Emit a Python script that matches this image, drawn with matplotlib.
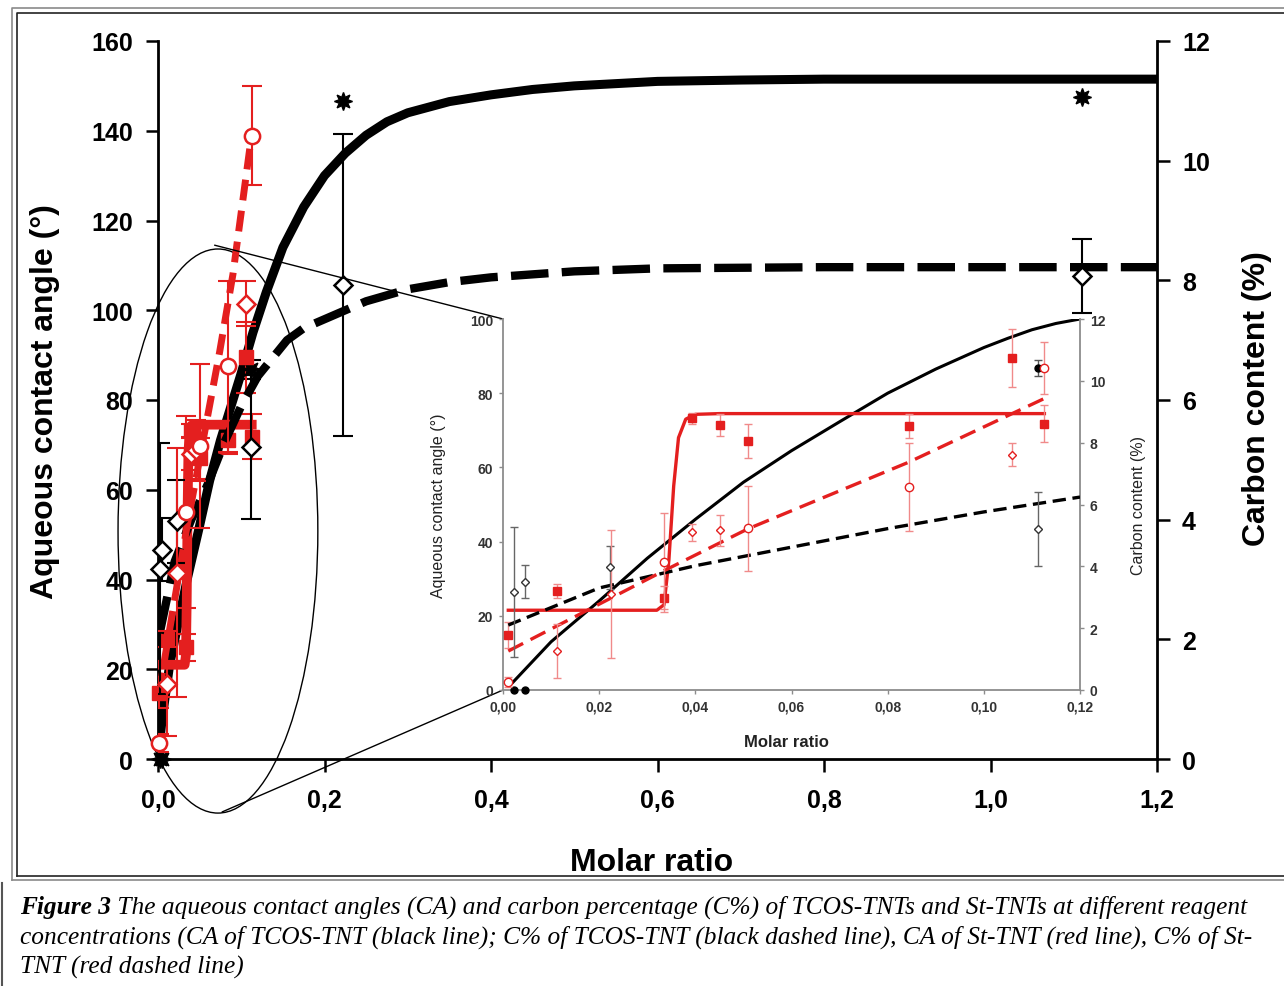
import numpy as np
import matplotlib
matplotlib.use('Agg')
import matplotlib.pyplot as plt
from matplotlib.patches import Ellipse, ConnectionPatch
from matplotlib.lines import Line2D

plt.rcParams['font.family'] = ['Liberation Sans', 'DejaVu Sans']

# ---- data ----
# CA of TCOS-TNT (black filled), left axis
tcos_ca_x = np.array([0.0022, 0.0046, 0.1113, 0.222, 1.110])
tcos_ca_y = np.array([0.0, 0.0, 86.8, 146.6, 147.5])
tcos_ca_err = np.array([0.0, 0.0, 2.1, 0.0, 0.0])

# C% of TCOS-TNT (black open diamonds), right axis
tcos_c_x = np.array([0.0022, 0.0046, 0.0223, 0.1113, 0.222, 1.110])
tcos_c_y = np.array([3.18, 3.50, 3.97, 5.21, 7.92, 8.07])
tcos_c_err = np.array([2.10, 0.53, 0.70, 1.20, 2.53, 0.62])

# CA of St-TNT (red filled squares), left axis
st_ca_x = np.array([0.0011, 0.0113, 0.0335, 0.0394, 0.0451, 0.0509, 0.0844, 0.1058, 0.1126])
st_ca_y = np.array([14.8, 26.7, 24.9, 73.2, 71.4, 67.0, 71.1, 89.5, 71.8])
st_ca_err = np.array([3.4, 1.8, 3.0, 1.5, 3.0, 4.6, 3.2, 7.9, 5.0])

# C% of St-TNT (red open symbols), right axis
st_c_x = np.array([0.0011, 0.0113, 0.0225, 0.0335, 0.0394, 0.0451, 0.0509, 0.0844, 0.1058, 0.1126])
st_c_y = np.array([0.26, 1.26, 3.11, 4.13, 5.10, 5.16, 5.23, 6.56, 7.61, 10.42])
st_c_err = np.array([0.15, 0.88, 2.08, 1.60, 0.27, 0.51, 1.37, 1.43, 0.38, 0.83])
st_c_mk = ['o', 'D', 'D', 'o', 'D', 'D', 'o', 'o', 'D', 'o']

# fitted curves, main panel
fit_tcos_ca_x = [0, 0.005, 0.014, 0.025, 0.035, 0.05, 0.062, 0.075, 0.09, 0.1, 0.114, 0.13, 0.15,
                 0.175, 0.2, 0.225, 0.25, 0.275, 0.3, 0.35, 0.4, 0.45, 0.5, 0.6, 0.7, 0.8, 1.0, 1.2]
fit_tcos_ca_y = [0, 9, 21, 31, 40, 52, 62, 71, 80, 86, 95, 104, 114,
                 123, 130, 135, 139, 142, 144, 146.5, 148, 149.2, 150, 151, 151.3, 151.5, 151.5, 151.5]
fit_tcos_c_x = [0.002, 0.02, 0.04, 0.06, 0.08, 0.1, 0.12, 0.155, 0.175, 0.2, 0.25, 0.3, 0.35, 0.4,
                0.5, 0.6, 0.8, 1.0, 1.2]
fit_tcos_c_y = [2.1, 3.3, 4.0, 4.6, 5.3, 5.9, 6.4, 7.0, 7.2, 7.35, 7.65, 7.85, 7.97, 8.05,
                8.15, 8.2, 8.22, 8.22, 8.22]
fit_st_ca_x = [0.0011, 0.032, 0.0335, 0.0345, 0.0355, 0.0365, 0.038, 0.040, 0.045, 0.1126]
fit_st_ca_y = [21, 21, 23, 35, 55, 68, 73, 74.3, 74.5, 74.5]
fit_st_c_x = [0.0011, 0.035, 0.074, 0.09, 0.1126]
fit_st_c_y = [1.1, 3.9, 6.8, 8.1, 10.45]

# fitted curves, inset
in_tcos_ca_x = [0.002, 0.01, 0.02, 0.03, 0.04, 0.05, 0.06, 0.07, 0.08, 0.09, 0.10, 0.105, 0.11, 0.115, 0.12]
in_tcos_ca_y = [2, 13, 24, 35.5, 46, 56, 64.5, 72.3, 80, 86.5, 92.3, 94.8, 97.1, 98.8, 100]
in_tcos_c_x = [0.0011, 0.02, 0.04, 0.06, 0.08, 0.10, 0.12]
in_tcos_c_y = [2.1, 3.3, 4.02, 4.62, 5.22, 5.76, 6.24]
in_st_ca_x = [0.0011, 0.032, 0.0335, 0.0345, 0.0355, 0.0365, 0.038, 0.040, 0.045, 0.1126]
in_st_ca_y = [21.5, 21.5, 23, 35, 55, 68, 73, 74.3, 74.5, 74.5]
in_st_c_x = [0.0011, 0.0335, 0.0509, 0.0844, 0.1126]
in_st_c_y = [1.26, 3.86, 5.21, 7.37, 9.43]

main_xticks = [0, 0.2, 0.4, 0.6, 0.8, 1.0, 1.2]
main_xlabels = ['0,0', '0,2', '0,4', '0,6', '0,8', '1,0', '1,2']
inset_xticks = [0, 0.02, 0.04, 0.06, 0.08, 0.10, 0.12]
inset_xlabels = ['0,00', '0,02', '0,04', '0,06', '0,08', '0,10', '0,12']

caption_bold = 'Figure 3'
caption_lines = [
    ' The aqueous contact angles (CA) and carbon percentage (C%) of TCOS-TNTs and St-TNTs at different reagent',
    'concentrations (CA of TCOS-TNT (black line); C% of TCOS-TNT (black dashed line), CA of St-TNT (red line), C% of St-',
    'TNT (red dashed line)',
]

RED = '#e41f1f'
W, H = 1284, 987
fig = plt.figure(figsize=(W / 100, H / 100), dpi=100)


def fx(px):
    return px / W


def fy(py):
    return 1 - py / H


# ---- main axes ----
ax = fig.add_axes([fx(158), fy(760), fx(1157) - fx(158), fy(42) - fy(760)])
ax2 = ax.twinx()
ax.set_xlim(0, 1.2)
ax.set_ylim(0, 160)
ax2.set_ylim(0, 12)

for a in (ax, ax2):
    a.spines['top'].set_visible(False)
    for s in a.spines.values():
        s.set_linewidth(2)
ax.spines['right'].set_visible(False)
ax2.spines['left'].set_visible(False)
ax2.spines['bottom'].set_visible(False)

ax.set_xticks(main_xticks)
ax.set_xticklabels(main_xlabels)
ax.set_yticks(np.arange(0, 161, 20))
ax2.set_yticks(np.arange(0, 13, 2))
ax.tick_params(axis='y', direction='out', length=9, width=1.8, pad=9, labelsize=18)
ax.tick_params(axis='x', direction='out', length=9, width=1.8, pad=12, labelsize=18)
ax2.tick_params(axis='y', direction='out', length=9, width=1.8, pad=9, labelsize=18)
for lab in ax.get_xticklabels() + ax.get_yticklabels() + ax2.get_yticklabels():
    lab.set_fontweight('bold')

ax.set_xlabel('Molar ratio', fontsize=23, fontweight='bold')
ax.xaxis.set_label_coords(0.4945, -0.1226)
ax.set_ylabel('Aqueous contact angle (°)', fontsize=23, fontweight='bold')
ax.yaxis.set_label_coords(-0.098, 0.499)
ax2.set_ylabel('Carbon content (%)', fontsize=23, fontweight='bold')
ax2.yaxis.set_label_coords(1.085, 0.504)

# curves
ax.plot(fit_tcos_ca_x, fit_tcos_ca_y, color='black', lw=6.5, solid_capstyle='butt',
        solid_joinstyle='round', zorder=3)
ax.plot(fit_st_ca_x, fit_st_ca_y, color=RED, lw=7, zorder=3)
ax2.plot(fit_tcos_c_x, fit_tcos_c_y, color='black', lw=6, dashes=(4.5, 1.6), zorder=3)
ax2.plot(fit_st_c_x, fit_st_c_y, color=RED, lw=5, dashes=(3, 1.5), zorder=3)

# markers / error bars main
m = tcos_ca_err > 0
ax.errorbar(tcos_ca_x[m], tcos_ca_y[m], yerr=tcos_ca_err[m], fmt='none', ecolor='black',
            elinewidth=1.5, capsize=7, capthick=1.5, zorder=4)
ax.plot(tcos_ca_x, tcos_ca_y, ls='none', marker=(8, 1, 0), ms=13, color='black', zorder=5, clip_on=False)
ax.errorbar(st_ca_x, st_ca_y, yerr=st_ca_err, fmt='none', ecolor=RED,
            elinewidth=1.5, capsize=7, capthick=1.5, zorder=4)
ax.plot(st_ca_x, st_ca_y, ls='none', marker='s', ms=10, color=RED, zorder=5, clip_on=False)

ax2.errorbar(tcos_c_x, tcos_c_y, yerr=tcos_c_err, fmt='none', ecolor='black',
             elinewidth=1.5, capsize=7, capthick=1.5, zorder=4)
ax2.plot(tcos_c_x, tcos_c_y, ls='none', marker='D', ms=9, mfc='white', mec='black', mew=1.8,
         zorder=5, clip_on=False)
ax2.errorbar(st_c_x, st_c_y, yerr=st_c_err, fmt='none', ecolor=RED,
             elinewidth=1.5, capsize=7, capthick=1.5, zorder=4)
for x, y, mk in zip(st_c_x, st_c_y, st_c_mk):
    ax2.plot(x, y, ls='none', marker=mk, ms=11 if mk == 'o' else 9, mfc='white', mec=RED,
             mew=1.8, zorder=5, clip_on=False)

# zoom ellipse
ell = Ellipse((0.072, 50.8), 0.24, 125.7, fill=False, lw=1.0, ec='black', clip_on=False, zorder=6)
ax.add_patch(ell)

# ---- inset ----
axin = fig.add_axes([fx(503), fy(691), fx(1080) - fx(503), fy(320) - fy(691)])
axin2 = axin.twinx()
axin.set_zorder(10)
axin2.set_zorder(11)
axin.patch.set_facecolor('white')
axin.set_xlim(0, 0.12)
axin.set_ylim(0, 100)
axin2.set_ylim(0, 12)
GR = '#8c8c8c'
for a in (axin, axin2):
    a.spines['top'].set_visible(False)
    for s in a.spines.values():
        s.set_color(GR)
        s.set_linewidth(1.3)
axin.spines['right'].set_visible(False)
axin2.spines['left'].set_visible(False)
axin2.spines['bottom'].set_visible(False)
axin.set_xticks(inset_xticks)
axin.set_xticklabels(inset_xlabels)
axin.set_yticks(np.arange(0, 101, 20))
axin2.set_yticks(np.arange(0, 13, 2))
for a in (axin, axin2):
    a.tick_params(direction='out', length=3, width=1, color=GR, labelsize=10, labelcolor='#333333', pad=4)
for lab in axin.get_xticklabels() + axin.get_yticklabels() + axin2.get_yticklabels():
    lab.set_fontweight('bold')
axin.set_xlabel('Molar ratio', fontsize=12, fontweight='bold', color='#222222')
axin.xaxis.set_label_coords(0.492, -0.118)
axin.set_ylabel('Aqueous contact angle (°)', fontsize=11.5, color='#222222')
axin.yaxis.set_label_coords(-0.099, 0.499)
axin2.set_ylabel('Carbon content (%)', fontsize=11.5, color='#222222')
axin2.yaxis.set_label_coords(1.088, 0.501)

axin.plot(in_tcos_ca_x, in_tcos_ca_y, color='black', lw=2.2, zorder=3)
axin.plot(in_st_ca_x, in_st_ca_y, color=RED, lw=2.4, zorder=3)
axin2.plot(in_tcos_c_x, in_tcos_c_y, color='black', lw=2.4, dashes=(4, 2), zorder=3)
axin2.plot(in_st_c_x, in_st_c_y, color=RED, lw=2.4, dashes=(5, 2.5), zorder=3)

LR = '#f08a8a'
mi = (tcos_ca_x <= 0.12)
me = mi & (tcos_ca_err > 0)
axin.errorbar(tcos_ca_x[me], tcos_ca_y[me], yerr=tcos_ca_err[me], fmt='none', ecolor='#555555',
              elinewidth=1, capsize=3, zorder=4)
axin.plot(tcos_ca_x[mi], tcos_ca_y[mi], ls='none', marker='o', ms=5, color='black', zorder=5, clip_on=False)
axin.errorbar(st_ca_x, st_ca_y, yerr=st_ca_err, fmt='none', ecolor=LR, elinewidth=1, capsize=3, zorder=4)
axin.plot(st_ca_x, st_ca_y, ls='none', marker='s', ms=5.5, color=RED, zorder=5, clip_on=False)
mi = tcos_c_x <= 0.12
axin2.errorbar(tcos_c_x[mi], tcos_c_y[mi], yerr=tcos_c_err[mi], fmt='none', ecolor='#666666',
               elinewidth=1, capsize=3, zorder=4)
axin2.plot(tcos_c_x[mi], tcos_c_y[mi], ls='none', marker='D', ms=4.5, mfc='white', mec='#333333',
           mew=1, zorder=5)
axin2.errorbar(st_c_x, st_c_y, yerr=st_c_err, fmt='none', ecolor=LR, elinewidth=1, capsize=3, zorder=4)
for x, y, mk in zip(st_c_x, st_c_y, st_c_mk):
    axin2.plot(x, y, ls='none', marker=mk, ms=6 if mk == 'o' else 4.5, mfc='white', mec=RED,
               mew=1, zorder=5, clip_on=False)

# connector lines from ellipse to inset
for xyA, xyB in [((0.068, 114.5), (0, 1)), ((0.077, -11.8), (0, 0))]:
    con = ConnectionPatch(xyA=xyA, coordsA=ax.transData, xyB=xyB, coordsB=axin.transAxes,
                          color='black', lw=1.0)
    fig.add_artist(con)

# ---- frame and caption ----
fig.add_artist(Line2D([fx(12), fx(12), fx(1290)], [fy(881), fy(9), fy(9)], color='#8a8a8a', lw=1.2))
fig.add_artist(Line2D([fx(12), fx(1290)], [fy(881), fy(881)], color='#8a8a8a', lw=1.2))
fig.add_artist(Line2D([fx(17), fx(17), fx(1290)], [fy(877), fy(14), fy(14)], color='#222222', lw=1.2))
fig.add_artist(Line2D([fx(17), fx(1290)], [fy(877), fy(877)], color='#222222', lw=1.2))
fig.add_artist(Line2D([fx(2), fx(2)], [fy(884), fy(987)], color='#555555', lw=1.5))

cap_size = 18.3
t0 = fig.text(fx(20), fy(914), caption_bold, fontsize=cap_size, family='Liberation Serif',
              style='italic', fontweight='bold', va='baseline')
r = fig.canvas.get_renderer()
bb = t0.get_window_extent(renderer=r)
fig.text(bb.x1 / W, fy(914), caption_lines[0], fontsize=cap_size, family='Liberation Serif',
         style='italic', va='baseline')
fig.text(fx(20), fy(944), caption_lines[1], fontsize=cap_size, family='Liberation Serif',
         style='italic', va='baseline')
fig.text(fx(20), fy(974), caption_lines[2], fontsize=cap_size, family='Liberation Serif',
         style='italic', va='baseline')

fig.savefig('out.png', dpi=100)
